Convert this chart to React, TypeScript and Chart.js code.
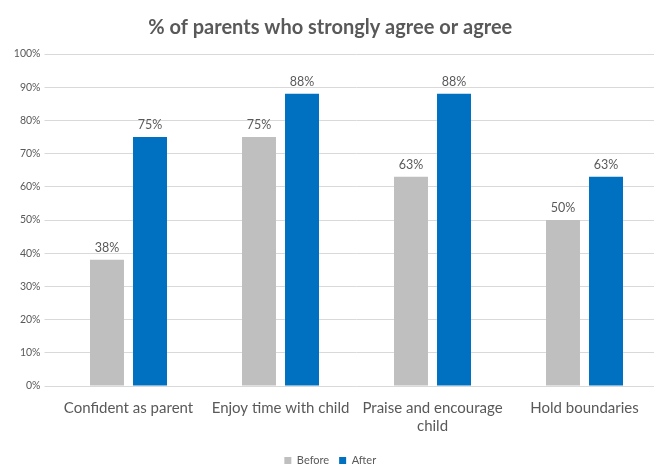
import React, { useEffect, useRef } from "react";
import { Chart, registerables } from "chart.js";

Chart.register(...registerables);

const categories: (string | string[])[] = [
  "Confident as parent",
  "Enjoy time with child",
  ["Praise and encourage", "child"],
  "Hold boundaries",
];
const beforeValues = [38, 75, 63, 50];
const afterValues = [75, 88, 88, 63];
const yTicks = [0, 10, 20, 30, 40, 50, 60, 70, 80, 90, 100];

const TEXT = "#595959";
const FONT = "Lato, 'Open Sans', sans-serif";
const LEGEND_SHIFT = 10;

const valueLabels = {
  id: "valueLabels",
  afterDatasetsDraw(chart: any) {
    const ctx = chart.ctx;
    ctx.save();
    ctx.fillStyle = TEXT;
    ctx.font = `12.5px ${FONT}`;
    ctx.textAlign = "center";
    ctx.textBaseline = "bottom";
    chart.data.datasets.forEach((ds: any, i: number) => {
      const meta = chart.getDatasetMeta(i);
      meta.data.forEach((bar: any, j: number) => {
        ctx.fillText(`${ds.data[j]}%`, bar.x, bar.y - 6);
      });
    });
    ctx.restore();
  },
};

export default function App() {
  const ref = useRef<HTMLCanvasElement>(null);
  useEffect(() => {
    if (!ref.current) return;
    const chart = new Chart(ref.current, {
      type: "bar",
      data: {
        labels: categories,
        datasets: [
          {
            label: "Before",
            data: beforeValues,
            backgroundColor: "#BFBFBF",
            categoryPercentage: 0.566,
            barPercentage: 0.79,
          },
          {
            label: "After",
            data: afterValues,
            backgroundColor: "#0070C0",
            categoryPercentage: 0.566,
            barPercentage: 0.79,
          },
        ],
      },
      options: {
        responsive: false,
        animation: false,
        devicePixelRatio: 1,
        layout: { padding: { left: 0, right: 1.5, top: 0, bottom: -LEGEND_SHIFT } },
        plugins: {
          title: {
            display: true,
            text: "% of parents who strongly agree or agree",
            color: TEXT,
            font: { family: FONT, size: 20, weight: "bold" },
            padding: { top: 16, bottom: 14 },
          },
          legend: {
            position: "bottom",
            labels: {
              color: TEXT,
              font: { family: FONT, size: 11 },
              boxWidth: 7,
              boxHeight: 7,
              padding: 10,
            },
          },
          tooltip: { enabled: false },
        },
        scales: {
          x: {
            grid: { display: false, drawTicks: false },
            border: { display: false },
            ticks: {
              color: TEXT,
              font: { family: FONT, size: 15 },
              padding: 13,
              maxRotation: 0,
              autoSkip: false,
            },
            afterFit: (s: any) => {
              const lh = s.chart.legend ? s.chart.legend.height : 32;
              s.height = 466 + LEGEND_SHIFT - lh - 386;
            },
          },
          y: {
            min: 0,
            max: 100,
            afterBuildTicks: (s: any) => {
              s.ticks = yTicks.map((v) => ({ value: v }));
            },
            grid: { color: "#D9D9D9", tickLength: 8, drawTicks: true },
            border: { display: false },
            ticks: {
              color: TEXT,
              font: { family: FONT, size: 10.5 },
              padding: 4,
              callback: (v: any) => `${v}%`,
            },
            afterFit: (s: any) => {
              s.width = 52.5;
            },
          },
        },
      },
      plugins: [valueLabels],
    });
    return () => chart.destroy();
  }, []);
  return (
    <div
      style={{
        position: "fixed",
        left: 0,
        top: 0,
        width: 654,
        height: 466,
        overflow: "hidden",
        background: "#fff",
      }}
    >
      <canvas ref={ref} width={662} height={466} style={{ display: "block" }} />
    </div>
  );
}
